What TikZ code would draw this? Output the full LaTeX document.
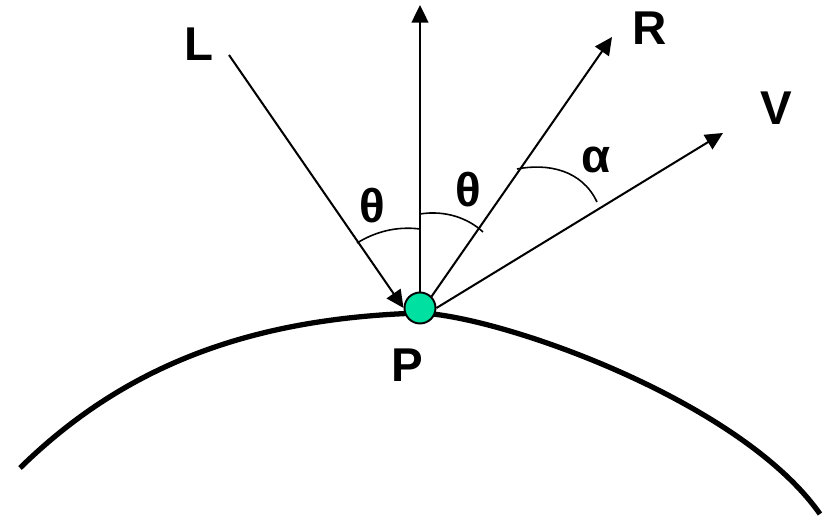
\documentclass[tikz,border=0pt]{standalone}
\usepackage{fontspec}
\setmainfont{Liberation Sans}
\usetikzlibrary{arrows.meta}
\definecolor{ptgreen}{RGB}{0,224,160}
\begin{document}
\begin{tikzpicture}[x=0.02cm, y=-0.02cm,
  lbl/.style={inner sep=0pt, font=\fontsize{27}{30}\selectfont\bfseries},
  vec/.style={-{Triangle[length=10pt,width=9.5pt]}, line width=1.15pt},
  angarc/.style={line width=0.9pt},
  pt/.style={circle, draw, line width=1.1pt, fill=ptgreen, minimum size=0.62cm, inner sep=0pt}
]
\useasboundingbox (0,0) rectangle (833,519);
% surface
\draw[line width=3pt] (20,468) .. controls (130,360) and (260,318) .. (420,313)
  .. controls (500,316) and (740,400) .. (820,514);
\node[pt] (P) at (420,308) {};
\coordinate (L) at (229,55);
\coordinate (N) at (420,5);
\coordinate (R) at (612,37);
\coordinate (V) at (723,133);
\draw[vec](L)--(P.west); \draw[vec](P.north)--(N);
\draw[vec](P.north east)--(R); \draw[vec](P.east)--(V);
% angle arcs
\draw[angarc] (357,243) .. controls (375,232) and (396,226) .. (420,229);
\draw[angarc] (420,214) .. controls (445,210) and (468,218) .. (483,232);
\draw[angarc] (517,169) .. controls (548,163) and (582,170) .. (597,202);
% labels
\node[lbl] (lL) at (199,44) {L};
\node[lbl] (lR) at (650,28) {R};
\node[lbl] (lV) at (776,108) {V};
\node[lbl] (lP) at (407,365) {P};
\node[lbl] (t1) at (372,206) {θ};
\node[lbl] (t2) at (468,190) {θ};
\node[lbl] (al) at (596,160) {α};
\end{tikzpicture}
\end{document}
